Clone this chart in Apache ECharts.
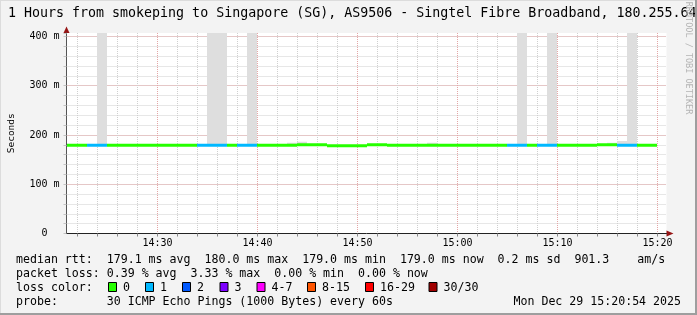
<!DOCTYPE html>
<html><head><meta charset="utf-8">
<script src="https://cdn.jsdelivr.net/npm/echarts@6/dist/echarts.min.js"></script>
<style>html,body{margin:0;padding:0;background:#f3f3f3}#c{width:697px;height:315px}</style>
</head><body><div id="c"></div>
<script>
// ---------------- data ----------------
const titleText = '1 Hours from smokeping to Singapore (SG), AS9506 - Singtel Fibre Broadband, 180.255.64';
const watermarkText = 'RRDTOOL / TOBI OETIKER';
const yAxisName = 'Seconds';
const rangeStart = '14:20:54';
const rangeEnd = '15:20:54';
const stepStart = [
  '14:21','14:22','14:23','14:24','14:25','14:26','14:27','14:28','14:29','14:30',
  '14:31','14:32','14:33','14:34','14:35','14:36','14:37','14:38','14:39','14:40',
  '14:41','14:42','14:43','14:44','14:45','14:46','14:47','14:48','14:49','14:50',
  '14:51','14:52','14:53','14:54','14:55','14:56','14:57','14:58','14:59','15:00',
  '15:01','15:02','15:03','15:04','15:05','15:06','15:07','15:08','15:09','15:10',
  '15:11','15:12','15:13','15:14','15:15','15:16','15:17','15:18','15:19'
];
const medianMs = [
  179,179,179,179,179,179,179,179,179,179,
  179,179,179,179,179,179,179,179,179,179,
  179,179,179,180,180,180,178,178,178,178,
  180,180,179,179,179,179,179,179,179,179,
  179,179,179,179,179,179,179,179,179,179,
  179,179,179,180,180,179,179,179,179
];
const lossCount = [
  0,0,1,1,0,0,0,0,0,0,
  0,0,0,1,1,1,0,1,1,0,
  0,0,0,0,0,0,0,0,0,0,
  0,0,0,0,0,0,0,0,0,0,
  0,0,0,0,1,1,0,1,1,0,
  0,0,0,0,0,1,1,0,0
];
const smokeMaxMs = [
  null,null,null,480,null,null,null,null,null,null,
  null,null,null,null,480,480,null,null,480,null,
  null,null,184,186,null,null,null,null,null,null,
  null,null,null,null,null,null,184,null,null,null,
  null,null,null,null,null,480,null,null,480,null,
  null,null,null,null,184,188,480,null,null
];
const xTickLabels = ['14:30','14:40','14:50','15:00','15:10','15:20'];
const yTickValues = [0,100,200,300,400];
const yTickLabels = ['0','100 m','200 m','300 m','400 m'];
const lossLegendLabels = ['0','1','2','3','4-7','8-15','16-29','30/30'];
const lossThresholds = [0,1,2,3,4,8,16,30];
const lossColors = ['#26ff00','#00b8ff','#0059ff','#7e00ff','#ff00ff','#ff5500','#ff0000','#a00000'];
const rttRow = 'median rtt:  179.1 ms avg  180.0 ms max  179.0 ms min  179.0 ms now  0.2 ms sd  901.3    am/s';
const lossRow = 'packet loss: 0.39 % avg  3.33 % max  0.00 % min  0.00 % now';
const lossColorRowTitle = 'loss color:';
const probeRow = 'probe:       30 ICMP Echo Pings (1000 Bytes) every 60s';
const dateText = 'Mon Dec 29 15:20:54 2025';

// ---------------- layout / style ----------------
const MONO = '"DejaVu Sans Mono", "Liberation Mono", monospace';
const Y_MAX = 407;
const boxX = [108,145,182,219.5,256.5,307,365,428.5];
const rowY = [259.5,273.5,287.5,301.5];
const LEG_FONT = 11.6;

function toMin(s){const p=s.split(':').map(Number);return p[0]*60+p[1]+(p[2]||0)/60;}
function fmtMin(v){const r=Math.round(v);const h=Math.floor(r/60),m=r%60;return h+':'+String(m).padStart(2,'0');}
function lossColor(n){let c=lossColors[0];for(let i=0;i<lossThresholds.length;i++){if(n>=lossThresholds[i])c=lossColors[i];}return c;}

const xMin = toMin(rangeStart), xMax = toMin(rangeEnd);
const seriesData = stepStart.map((s,i)=>[toMin(s), toMin(s)+1, medianMs[i], smokeMaxMs[i]==null?medianMs[i]:smokeMaxMs[i], lossCount[i]]);

const graphics = [];
function txt(x,y,t,opt){graphics.push({type:'text',x:x,y:y,silent:true,style:{text:t,font:(opt&&opt.font)||(LEG_FONT+'px '+MONO),fill:(opt&&opt.fill)||'#000',align:(opt&&opt.align)||'left',verticalAlign:'middle'}});}
txt(8,13.6,titleText,{font:'13.3px '+MONO});
graphics.push({type:'text',x:688,y:58,rotation:-Math.PI/2,silent:true,style:{text:watermarkText,font:'8.5px '+MONO,fill:'#b4b4b4',align:'center',verticalAlign:'middle'}});
txt(16,rowY[0],rttRow);
txt(16,rowY[1],lossRow);
txt(16,rowY[2],lossColorRowTitle);
lossLegendLabels.forEach((t,i)=>{
  graphics.push({type:'rect',silent:true,shape:{x:boxX[i]+0.5,y:282.5,width:8,height:9},style:{fill:lossColors[i],stroke:'#000',lineWidth:1}});
  txt(boxX[i]+15,rowY[2],t);
});
txt(16,rowY[3],probeRow);
txt(681,rowY[3],dateText,{align:'right'});
// axis arrows
graphics.push({type:'polygon',silent:true,shape:{points:[[63.5,33],[69.5,33],[66.5,26.5]]},style:{fill:'#961414'}});
graphics.push({type:'polygon',silent:true,shape:{points:[[666.5,230.5],[666.5,236.5],[673.5,233.5]]},style:{fill:'#961414'}});
// frame
graphics.push({type:'rect',silent:true,shape:{x:0,y:0,width:697,height:1},style:{fill:'#dcdcdc'}});
graphics.push({type:'rect',silent:true,shape:{x:0,y:0,width:1,height:315},style:{fill:'#dcdcdc'}});
graphics.push({type:'rect',silent:true,shape:{x:695,y:0,width:2,height:315},style:{fill:'#9e9e9e'}});
graphics.push({type:'rect',silent:true,shape:{x:0,y:313,width:697,height:2},style:{fill:'#9e9e9e'}});

const minorLine = {show:true, showMinLine:false, showMaxLine:false, lineStyle:{color:'#cfcfcf',width:1,type:[1,1]}};
const majorLine = {show:true, showMinLine:false, showMaxLine:false, lineStyle:{color:'#e3a6a6',width:1,type:[1,1]}};

const option = {
  animation:false,
  backgroundColor:'#f3f3f3',
  grid:{left:66.5,right:30.5,top:33,bottom:81.5,show:true,backgroundColor:'#ffffff',borderWidth:0,containLabel:false,outerBoundsMode:'none'},
  xAxis:[
    {type:'value',min:xMin,max:xMax,minInterval:2,maxInterval:2,splitNumber:30,position:'bottom',
     axisLine:{show:true,onZero:false,lineStyle:{color:'#222',width:1}},
     axisTick:{show:true,length:3,lineStyle:{color:'#888'}},
     axisLabel:{show:true,margin:5,fontFamily:MONO,fontSize:10,color:'#000',showMinLabel:false,showMaxLabel:false,hideOverlap:false,
       formatter:v=>{if(Math.abs(v-Math.round(v))>1e-6)return '';const s=fmtMin(v);return xTickLabels.indexOf(s)>=0?s:'';}},
     splitLine:minorLine},
    {type:'value',min:xMin,max:xMax,minInterval:10,maxInterval:10,splitNumber:6,position:'bottom',
     axisLine:{show:false},axisTick:{show:false},axisLabel:{show:false},splitLine:majorLine}
  ],
  yAxis:[
    {type:'value',min:0,max:Y_MAX,minInterval:20,maxInterval:20,splitNumber:20,position:'left',
     name:yAxisName,nameLocation:'middle',nameGap:50,nameRotate:90,nameTextStyle:{fontFamily:MONO,fontSize:9.5,color:'#000'},
     axisLine:{show:true,onZero:false,lineStyle:{color:'#555',width:1}},
     axisTick:{show:true,length:3,lineStyle:{color:'#c4c4c4'}},
     axisLabel:{show:true,margin:7,fontFamily:MONO,fontSize:10,color:'#000',
       formatter:v=>{const i=yTickValues.indexOf(v);if(i<0)return '';const l=yTickLabels[i];return l.indexOf(' ')<0?l+'  ':l;}},
     splitLine:minorLine},
    {type:'value',min:0,max:Y_MAX,interval:100,position:'left',
     axisLine:{show:false},axisTick:{show:false},axisLabel:{show:false},splitLine:majorLine}
  ],
  series:[{
    type:'custom',xAxisIndex:0,yAxisIndex:0,clip:true,
    data:seriesData,
    renderItem:(params,api)=>{
      const x0=Math.floor(api.coord([api.value(0),0])[0]);
      const x1=Math.floor(api.coord([api.value(1),0])[0]);
      const med=api.value(2);
      const ym=api.coord([api.value(0),med])[1];
      const sm=api.value(3);
      const children=[];
      if(sm>med){
        const yt=api.coord([api.value(0),Math.min(sm,Y_MAX)])[1];
        children.push({type:'rect',shape:{x:x0,y:yt,width:x1-x0,height:ym-yt},style:{fill:'#dedede'}});
      }
      children.push({type:'rect',shape:{x:x0,y:ym-1.5,width:x1-x0,height:3},style:{fill:lossColor(api.value(4))}});
      return {type:'group',children:children};
    }
  }],
  graphic:graphics
};
const chart = echarts.init(document.getElementById('c'),null,{renderer:'canvas',width:697,height:315});
chart.setOption(option);
</script>
</body></html>
